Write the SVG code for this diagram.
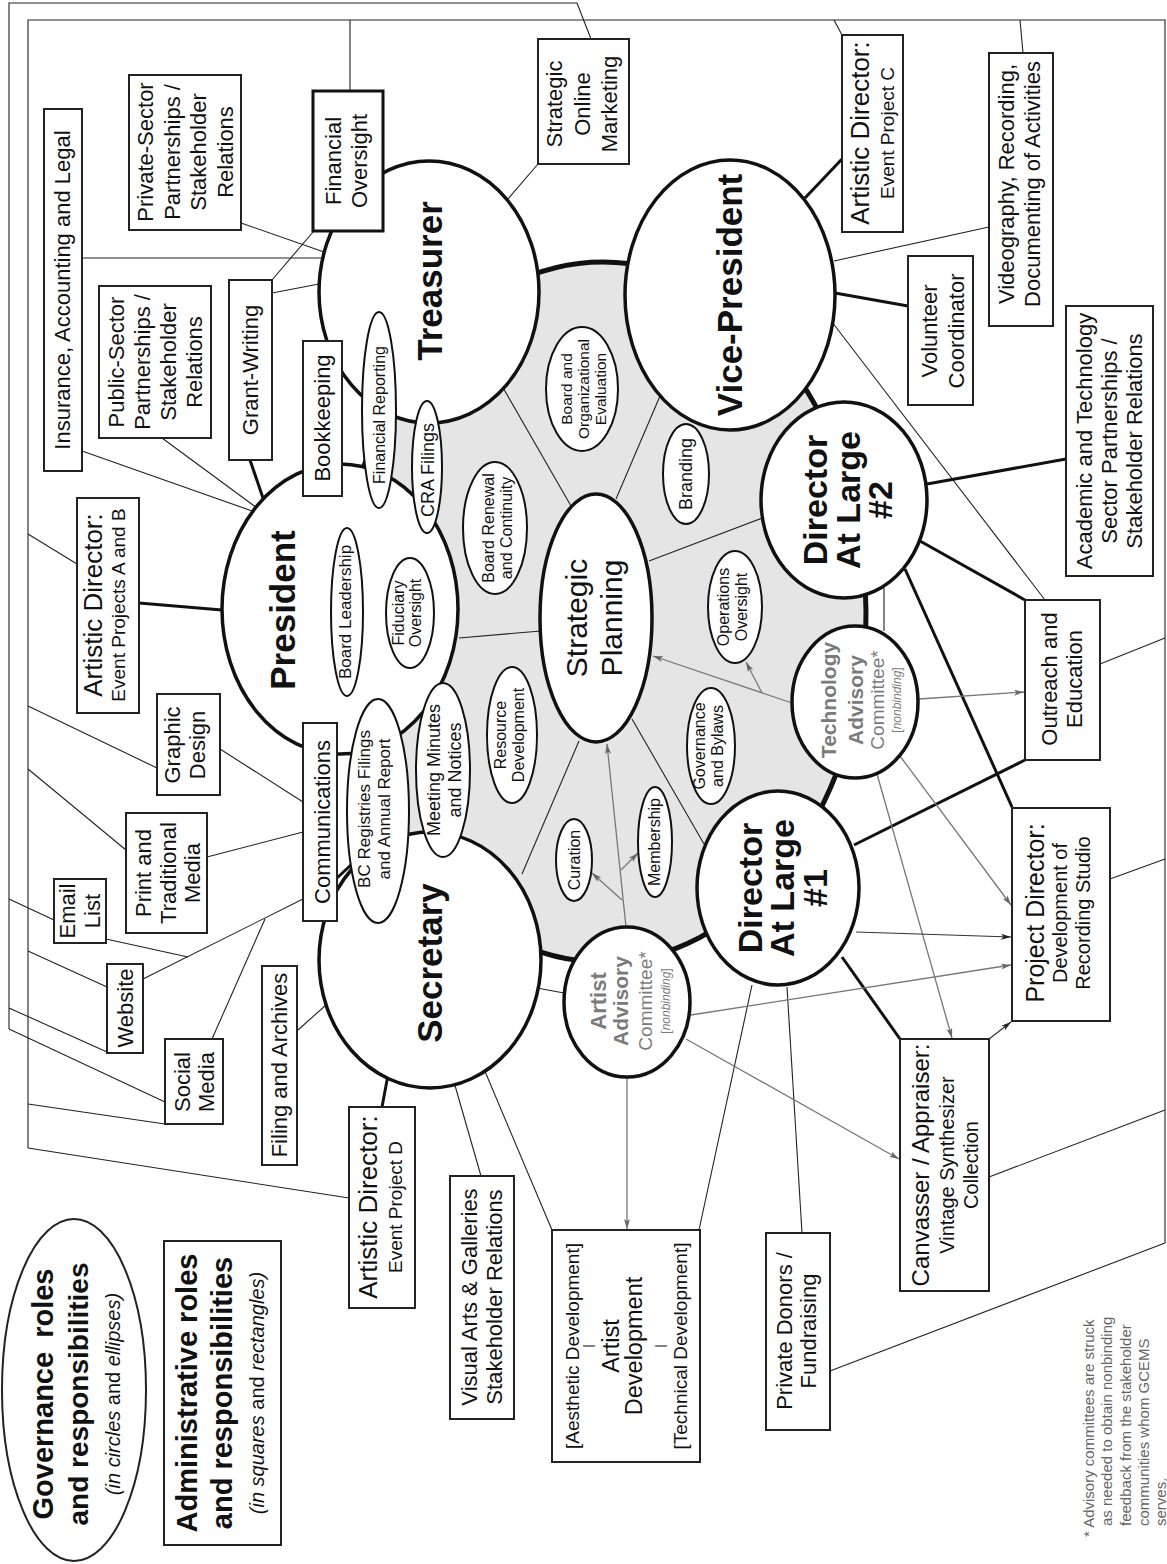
<svg xmlns="http://www.w3.org/2000/svg" width="1167" height="1564" viewBox="0 0 1167 1564">
<defs>
<marker id="ag" viewBox="0 0 10 6" refX="10" refY="3" markerWidth="10" markerHeight="6" markerUnits="userSpaceOnUse" orient="auto"><path d="M0,0 L10,3 L0,6 L2.5,3 z" fill="#666"/></marker>
<marker id="ak" viewBox="0 0 10 6" refX="10" refY="3" markerWidth="10" markerHeight="6" markerUnits="userSpaceOnUse" orient="auto"><path d="M0,0 L10,3 L0,6 L2.5,3 z" fill="#222"/></marker>
</defs>
<style>
text { font-family: "Liberation Sans", Arial, sans-serif; fill: #111; }
.c { text-anchor: middle; }
.bx { fill: #fff; stroke: #222; stroke-width: 2; }
.bxb { fill: #fff; stroke: #111; stroke-width: 3; }
.role { fill: #fff; stroke: #111; stroke-width: 3.5; }
.sub { fill: #fff; stroke: #111; stroke-width: 2; }
.tn { stroke: #222; stroke-width: 1.1; fill: none; }
.tk { stroke: #111; stroke-width: 3; fill: none; }
.ga { stroke: #777; stroke-width: 1.3; fill: none; marker-end: url(#ag); }
.ka { stroke: #333; stroke-width: 1.2; fill: none; marker-end: url(#ak); }
.f22 { font-size: 22px; }
.f26 { font-size: 26px; }
.f19 { font-size: 19px; }
.f17 { font-size: 17px; }
.f16 { font-size: 16px; }
.rb { font-size: 35px; font-weight: bold; }
.db { font-size: 34px; font-weight: bold; }
.gr { fill: #7a7a7a; }
</style>
<rect width="1167" height="1564" fill="#fff"/>
<ellipse id="core" cx="603" cy="612" rx="263" ry="350" fill="#e5e5e5" stroke="#111" stroke-width="5"/>

<g id="connectors">
<polyline class="tn" points="9,1029 9,3 577,3 591,39"/>
<polyline class="tn" points="28,1148 28,20 1165,20 1165,1243"/>
<line class="tn" x1="350" y1="20" x2="350" y2="91"/>
<line class="tn" x1="834" y1="20" x2="842" y2="35"/>
<line class="tn" x1="1020" y1="20" x2="1023" y2="53"/>
<line class="tn" x1="28" y1="534" x2="77" y2="564"/>
<line class="tn" x1="28" y1="706" x2="157" y2="768"/>
<line class="tn" x1="28" y1="769" x2="126" y2="850"/>
<line class="tn" x1="9" y1="899" x2="54" y2="920"/>
<line class="tn" x1="28" y1="951" x2="107" y2="987"/>
<line class="tn" x1="9" y1="1008" x2="107" y2="1052"/>
<line class="tn" x1="9" y1="1029" x2="165" y2="1102"/>
<line class="tn" x1="28" y1="1104" x2="165" y2="1124"/>
<line class="tn" x1="28" y1="1148" x2="349" y2="1198"/>
<line class="tn" x1="1165" y1="638" x2="1100" y2="664"/>
<line class="tn" x1="1165" y1="859" x2="1110" y2="879"/>
<line class="tn" x1="1165" y1="1110" x2="989" y2="1177"/>
<line class="tn" x1="1165" y1="1243" x2="830" y2="1371"/>

<line class="tn" x1="82" y1="258" x2="322" y2="258"/>
<line class="tn" x1="82" y1="451" x2="255" y2="512"/>
<line class="tn" x1="241" y1="223" x2="324" y2="252"/>
<line class="tn" x1="162" y1="438" x2="257" y2="508"/>
<line class="tn" x1="272" y1="293" x2="319" y2="284"/>
<line class="tn" x1="272" y1="280" x2="313" y2="232"/>
<line class="tn" x1="507" y1="200" x2="538" y2="164"/>
<line class="tn" x1="834" y1="261" x2="989" y2="227"/>
<line class="tn" x1="832" y1="322" x2="1045" y2="600"/>
<line class="tn" x1="220" y1="749" x2="303" y2="802"/>
<line class="tn" x1="207" y1="857" x2="303" y2="832"/>
<line class="tn" x1="143" y1="979" x2="303" y2="899"/>
<line class="tn" x1="106" y1="939" x2="188" y2="957"/>
<line class="tn" x1="212" y1="1039" x2="265" y2="919"/>
<line class="tn" x1="298" y1="1030" x2="326" y2="1005"/>
<line class="tn" x1="454" y1="1082" x2="481" y2="1176"/>
<line class="tn" x1="484" y1="1069" x2="552" y2="1230"/>
<line class="tn" x1="752" y1="985" x2="699" y2="1230"/>
<line class="tn" x1="787" y1="987" x2="802" y2="1233"/>
<line class="tn" x1="571" y1="506" x2="502" y2="386"/>
<line class="tn" x1="616" y1="499" x2="660" y2="396"/>
<line class="tn" x1="649" y1="561" x2="765" y2="517"/>
<line class="tn" x1="459" y1="638" x2="541" y2="631"/>
<line class="tn" x1="579" y1="741" x2="522" y2="874"/>
<line class="tn" x1="632" y1="719" x2="704" y2="844"/>
<line class="tn" x1="383" y1="508" x2="400" y2="560"/>
<line class="tn" x1="400" y1="666" x2="386" y2="702"/>
<line class="tn" x1="426" y1="533" x2="416" y2="558"/>
<line class="tn" x1="419" y1="664" x2="431" y2="685"/>
<line class="tn" x1="537" y1="988" x2="564" y2="993"/>
<line class="tn" x1="884" y1="588" x2="884" y2="631"/>

<line class="tk" x1="139" y1="603" x2="222" y2="610"/>
<line class="tk" x1="250" y1="460" x2="264" y2="501"/>
<line class="tk" x1="342" y1="470" x2="364" y2="471"/>
<line class="tk" x1="337" y1="878" x2="352" y2="864"/>
<line class="tk" x1="383" y1="173" x2="397" y2="167"/>
<line class="tk" x1="805" y1="198" x2="842" y2="159"/>
<line class="tk" x1="835" y1="293" x2="908" y2="306"/>
<line class="tk" x1="927" y1="484" x2="1066" y2="459"/>
<line class="tk" x1="920" y1="541" x2="1025" y2="600"/>
<line class="tk" x1="905" y1="569" x2="1012" y2="807"/>
<line class="tk" x1="1025" y1="760" x2="854" y2="845"/>
<line class="tk" x1="842" y1="957" x2="900" y2="1039"/>
<line class="tk" x1="388" y1="1075" x2="382" y2="1107"/>

<line class="ga" x1="792" y1="703" x2="653" y2="656"/>
<line class="ga" x1="762" y1="693" x2="746" y2="662"/>
<line class="ga" x1="919" y1="699" x2="1024" y2="692"/>
<line class="ga" x1="900" y1="756" x2="1011" y2="905"/>
<line class="ga" x1="877" y1="774" x2="952" y2="1038"/>
<line class="ga" x1="626" y1="927" x2="607" y2="744"/>
<line class="ga" x1="622" y1="900" x2="592" y2="873"/>
<line class="ga" x1="621" y1="870" x2="638" y2="853"/>
<line class="ga" x1="627" y1="1077" x2="627" y2="1229"/>
<line class="ga" x1="691" y1="1015" x2="1011" y2="965"/>
<line class="ga" x1="686" y1="1039" x2="899" y2="1159"/>
<line class="ka" x1="856" y1="932" x2="1011" y2="937"/>
<line class="ka" x1="989" y1="1039" x2="1011" y2="1022"/>
</g>

<g id="president"><ellipse class="role" cx="340" cy="609" rx="118" ry="145"/><text class="c rb" transform="translate(295,610) rotate(-90)">President</text></g>
<g id="treasurer"><ellipse class="role" cx="429" cy="292" rx="110" ry="131"/><text class="c rb" transform="translate(442,281) rotate(-90)">Treasurer</text></g>
<g id="vice-president"><ellipse class="role" cx="730" cy="295" rx="105" ry="135"/><text class="c rb" transform="translate(742,295) rotate(-90)">Vice-President</text></g>
<g id="secretary"><ellipse class="role" cx="430" cy="960" rx="111" ry="128"/><text class="c rb" transform="translate(442,963) rotate(-90)">Secretary</text></g>
<g id="director-2"><ellipse class="role" cx="844" cy="500" rx="83" ry="98"/><text class="c db" transform="translate(827,500) rotate(-90)"><tspan x="0" y="0">Director</tspan><tspan x="0" y="33">At Large</tspan><tspan x="0" y="65">#2</tspan></text></g>
<g id="director-1"><ellipse class="role" cx="778" cy="888" rx="81" ry="97"/><text class="c db" transform="translate(762,888) rotate(-90)"><tspan x="0" y="0">Director</tspan><tspan x="0" y="32">At Large</tspan><tspan x="0" y="65">#1</tspan></text></g>
<g id="strategic-planning"><ellipse class="role" cx="596" cy="618" rx="56" ry="124"/><text class="c" font-size="30" transform="translate(587,618) rotate(-90)"><tspan x="0" y="0">Strategic</tspan><tspan x="0" y="35">Planning</tspan></text></g>
<g id="tech-advisory"><ellipse class="role" cx="855" cy="702" rx="63" ry="76"/><text class="c gr" transform="translate(836,700) rotate(-90)"><tspan x="0" y="0" font-size="21" font-weight="bold" class="gr">Technology</tspan><tspan x="0" y="27" font-size="21" font-weight="bold" class="gr">Advisory</tspan><tspan x="0" y="48" font-size="19" class="gr">Committee*</tspan><tspan x="0" y="65" font-size="12" class="gr">[<tspan font-style="italic" class="gr">nonbinding</tspan>]</tspan></text></g>
<g id="artist-advisory"><ellipse class="role" cx="627" cy="1002" rx="63" ry="75"/><text class="c gr" transform="translate(606,1001) rotate(-90)"><tspan x="0" y="0" font-size="22" font-weight="bold" class="gr">Artist</tspan><tspan x="0" y="22" font-size="21" font-weight="bold" class="gr">Advisory</tspan><tspan x="0" y="46" font-size="19" class="gr">Committee*</tspan><tspan x="0" y="64" font-size="12" class="gr">[<tspan font-style="italic" class="gr">nonbinding</tspan>]</tspan></text></g>

<g id="board-leadership"><ellipse class="sub" cx="347" cy="612" rx="16" ry="84"/><text class="c f17" transform="translate(351,612) rotate(-90)">Board Leadership</text></g>
<g id="fiduciary-oversight"><ellipse class="sub" cx="410" cy="613" rx="24" ry="55"/><text class="c f16" transform="translate(404,613) rotate(-90)"><tspan x="0" y="0">Fiduciary</tspan><tspan x="0" y="17">Oversight</tspan></text></g>
<g id="financial-reporting"><ellipse class="sub" cx="379" cy="410" rx="17" ry="98"/><text class="c f16" transform="translate(385,415) rotate(-90)">Financial Reporting</text></g>
<g id="cra-filings"><ellipse class="sub" cx="427" cy="467" rx="15" ry="66"/><text class="c" font-size="18" transform="translate(434,470) rotate(-90)">CRA Filings</text></g>
<g id="bc-registries"><ellipse class="sub" cx="378" cy="811" rx="31" ry="112"/><text class="c f17" transform="translate(370,809) rotate(-90)"><tspan x="0" y="0">BC Registries Filings</tspan><tspan x="0" y="20">and Annual Report</tspan></text></g>
<g id="meeting-minutes"><ellipse class="sub" cx="443" cy="770" rx="27" ry="87"/><text class="c" font-size="18" transform="translate(440,770) rotate(-90)"><tspan x="0" y="0">Meeting Minutes</tspan><tspan x="0" y="21">and Notices</tspan></text></g>
<g id="board-renewal"><ellipse class="sub" cx="495" cy="528" rx="32" ry="66"/><text class="c f16" transform="translate(494,528) rotate(-90)"><tspan x="0" y="0">Board Renewal</tspan><tspan x="0" y="18">and Continuity</tspan></text></g>
<g id="board-evaluation"><ellipse class="sub" cx="582" cy="389" rx="36" ry="62"/><text class="c" font-size="15.5" transform="translate(572,389) rotate(-90)"><tspan x="0" y="0">Board and</tspan><tspan x="0" y="17">Organizational</tspan><tspan x="0" y="34">Evaluation</tspan></text></g>
<g id="branding"><ellipse class="sub" cx="686" cy="474" rx="23" ry="50"/><text class="c" font-size="18" transform="translate(692,474) rotate(-90)">Branding</text></g>
<g id="operations-oversight"><ellipse class="sub" cx="735" cy="607" rx="27" ry="56"/><text class="c f16" transform="translate(729,607) rotate(-90)"><tspan x="0" y="0">Operations</tspan><tspan x="0" y="18">Oversight</tspan></text></g>
<g id="governance-bylaws"><ellipse class="sub" cx="711" cy="746" rx="24" ry="58"/><text class="c f16" transform="translate(705,746) rotate(-90)"><tspan x="0" y="0">Governance</tspan><tspan x="0" y="18">and Bylaws</tspan></text></g>
<g id="resource-development"><ellipse class="sub" cx="512" cy="735" rx="25" ry="68"/><text class="c f16" transform="translate(506,735) rotate(-90)"><tspan x="0" y="0">Resource</tspan><tspan x="0" y="18">Development</tspan></text></g>
<g id="curation"><ellipse class="sub" cx="574" cy="860" rx="18" ry="41"/><text class="c f16" transform="translate(580,860) rotate(-90)">Curation</text></g>
<g id="membership"><ellipse class="sub" cx="655" cy="842" rx="17" ry="55"/><text class="c f16" transform="translate(660,842) rotate(-90)">Membership</text></g>

<g id="insurance"><rect class="bx" x="44" y="109" width="38" height="362"/><text class="c f22" transform="translate(70,290) rotate(-90)">Insurance, Accounting and Legal</text></g>
<g id="private-sector"><rect class="bx" x="129" y="75" width="112" height="155"/><text class="c f22" transform="translate(153,152) rotate(-90)"><tspan x="0" y="0">Private-Sector</tspan><tspan x="0" y="26.5">Partnerships /</tspan><tspan x="0" y="53">Stakeholder</tspan><tspan x="0" y="79.5">Relations</tspan></text></g>
<g id="financial-oversight"><rect class="bxb" x="313" y="91" width="70" height="140"/><text class="c f22" transform="translate(341,161) rotate(-90)"><tspan x="0" y="0">Financial</tspan><tspan x="0" y="26">Oversight</tspan></text></g>
<g id="strategic-online-marketing"><rect class="bx" x="538" y="39" width="91" height="125"/><text class="c f22" transform="translate(562,104) rotate(-90)"><tspan x="0" y="0">Strategic</tspan><tspan x="0" y="28">Online</tspan><tspan x="0" y="55">Marketing</tspan></text></g>
<g id="artistic-director-c"><rect class="bx" x="842" y="35" width="61" height="197"/><text class="c" transform="translate(869,133) rotate(-90)"><tspan x="0" y="0" class="f26">Artistic Director:</tspan><tspan x="0" y="25" class="f19">Event Project C</tspan></text></g>
<g id="videography"><rect class="bx" x="989" y="53" width="64" height="273"/><text class="c f22" transform="translate(1014,184) rotate(-90)"><tspan x="0" y="0">Videography, Recording,</tspan><tspan x="0" y="26">Documenting of Activities</tspan></text></g>
<g id="public-sector"><rect class="bx" x="99" y="286" width="112" height="152"/><text class="c f22" transform="translate(124,362) rotate(-90)"><tspan x="0" y="0">Public-Sector</tspan><tspan x="0" y="26">Partnerships /</tspan><tspan x="0" y="52">Stakeholder</tspan><tspan x="0" y="78">Relations</tspan></text></g>
<g id="grant-writing"><rect class="bx" x="229" y="280" width="43" height="180"/><text class="c f22" transform="translate(258,370) rotate(-90)">Grant-Writing</text></g>
<g id="bookkeeping"><rect class="bx" x="303" y="341" width="39" height="155"/><text class="c f22" transform="translate(330,418) rotate(-90)">Bookkeeping</text></g>
<g id="volunteer-coordinator"><rect class="bx" x="908" y="256" width="65" height="149"/><text class="c f22" transform="translate(937,331) rotate(-90)"><tspan x="0" y="0">Volunteer</tspan><tspan x="0" y="27">Coordinator</tspan></text></g>
<g id="academic-technology"><rect class="bx" x="1066" y="306" width="87" height="270"/><text class="c f22" transform="translate(1092,441) rotate(-90)"><tspan x="0" y="0">Academic and Technology</tspan><tspan x="0" y="25">Sector Partnerships /</tspan><tspan x="0" y="50">Stakeholder Relations</tspan></text></g>
<g id="artistic-director-ab"><rect class="bx" x="77" y="498" width="62" height="215"/><text class="c" transform="translate(102,605) rotate(-90)"><tspan x="0" y="0" class="f26">Artistic Director:</tspan><tspan x="0" y="23" class="f19">Event Projects A and B</tspan></text></g>
<g id="graphic-design"><rect class="bx" x="157" y="694" width="63" height="101"/><text class="c f22" transform="translate(180,745) rotate(-90)"><tspan x="0" y="0">Graphic</tspan><tspan x="0" y="25">Design</tspan></text></g>
<g id="communications"><rect class="bx" x="303" y="723" width="34" height="198"/><text class="c f22" transform="translate(330,822) rotate(-90)">Communications</text></g>
<g id="print-media"><rect class="bx" x="126" y="813" width="81" height="120"/><text class="c f22" transform="translate(151,873) rotate(-90)"><tspan x="0" y="0">Print and</tspan><tspan x="0" y="24.5">Traditional</tspan><tspan x="0" y="49">Media</tspan></text></g>
<g id="email-list"><rect class="bx" x="54" y="879" width="52" height="64"/><text class="c f22" transform="translate(75,911) rotate(-90)"><tspan x="0" y="0">Email</tspan><tspan x="0" y="25">List</tspan></text></g>
<g id="website"><rect class="bx" x="107" y="964" width="36" height="89"/><text class="c f22" transform="translate(133,1008) rotate(-90)">Website</text></g>
<g id="social-media"><rect class="bx" x="165" y="1039" width="58" height="85"/><text class="c f22" transform="translate(190,1082) rotate(-90)"><tspan x="0" y="0">Social</tspan><tspan x="0" y="24">Media</tspan></text></g>
<g id="filing-archives"><rect class="bx" x="262" y="966" width="35" height="199"/><text class="c f22" transform="translate(287,1065) rotate(-90)">Filing and Archives</text></g>
<g id="artistic-director-d"><rect class="bx" x="349" y="1107" width="66" height="201"/><text class="c" transform="translate(377,1207) rotate(-90)"><tspan x="0" y="0" class="f26">Artistic Director:</tspan><tspan x="0" y="25" class="f19">Event Project D</tspan></text></g>
<g id="visual-arts"><rect class="bx" x="450" y="1176" width="64" height="243"/><text class="c f22" transform="translate(477,1297) rotate(-90)"><tspan x="0" y="0">Visual Arts &amp; Galleries</tspan><tspan x="0" y="25">Stakeholder Relations</tspan></text></g>
<g id="artist-development"><rect class="bx" x="552" y="1230" width="148" height="232"/><text class="c" transform="translate(579,1346) rotate(-90)"><tspan x="0" y="0" class="f19">[Aesthetic Development]</tspan><tspan x="0" y="13" font-size="12">|</tspan><tspan x="0" y="40" font-size="23.5">Artist</tspan><tspan x="0" y="63" font-size="23.5">Development</tspan><tspan x="0" y="85" font-size="12">|</tspan><tspan x="0" y="108" class="f19">[Technical Development]</tspan></text></g>
<g id="private-donors"><rect class="bx" x="766" y="1233" width="64" height="197"/><text class="c f22" transform="translate(792,1331) rotate(-90)"><tspan x="0" y="0">Private Donors /</tspan><tspan x="0" y="24">Fundraising</tspan></text></g>
<g id="canvasser"><rect class="bx" x="900" y="1039" width="89" height="252"/><text class="c" transform="translate(929,1165) rotate(-90)"><tspan x="0" y="0" font-size="24">Canvasser / Appraiser:</tspan><tspan x="0" y="25" font-size="20">Vintage Synthesizer</tspan><tspan x="0" y="49" font-size="20">Collection</tspan></text></g>
<g id="project-director"><rect class="bx" x="1012" y="808" width="98" height="213"/><text class="c" transform="translate(1044,913) rotate(-90)"><tspan x="0" y="0" font-size="25">Project Director:</tspan><tspan x="0" y="23" font-size="20">Development of</tspan><tspan x="0" y="46" font-size="20">Recording Studio</tspan></text></g>
<g id="outreach-education"><rect class="bx" x="1025" y="600" width="75" height="160"/><text class="c f22" transform="translate(1057,679) rotate(-90)"><tspan x="0" y="0">Outreach and</tspan><tspan x="0" y="25">Education</tspan></text></g>

<g id="legend-governance"><ellipse cx="74" cy="1390" rx="72" ry="171" fill="#fff" stroke="#222" stroke-width="2"/><text class="c" transform="translate(53,1394) rotate(-90)"><tspan x="0" y="0" font-size="29" font-weight="bold" style="word-spacing:6px">Governance roles</tspan><tspan x="0" y="35" font-size="28" font-weight="bold">and responsibilities</tspan><tspan x="0" y="67" font-size="20" font-style="italic">(in circles <tspan font-style="normal">and</tspan> ellipses)</tspan></text></g>
<g id="legend-administrative"><rect class="bx" x="164" y="1241" width="117" height="304"/><text class="c" transform="translate(197,1393) rotate(-90)"><tspan x="0" y="0" font-size="29" font-weight="bold">Administrative roles</tspan><tspan x="0" y="35" font-size="29" font-weight="bold">and responsibilities</tspan><tspan x="0" y="67" font-size="20" font-style="italic">(in squares <tspan font-style="normal">and</tspan> rectangles)</tspan></text></g>
<g id="footnote"><text font-size="15" transform="translate(1094,1537) rotate(-90)" style="fill:#666"><tspan x="0" y="0" style="fill:#666">* Advisory committees are struck</tspan><tspan x="11" y="18" style="fill:#666">as needed to obtain nonbinding</tspan><tspan x="11" y="37" style="fill:#666">feedback from the stakeholder</tspan><tspan x="11" y="55" style="fill:#666">communities whom GCEMS</tspan><tspan x="11" y="72" style="fill:#666">serves.</tspan></text></g>
</svg>
